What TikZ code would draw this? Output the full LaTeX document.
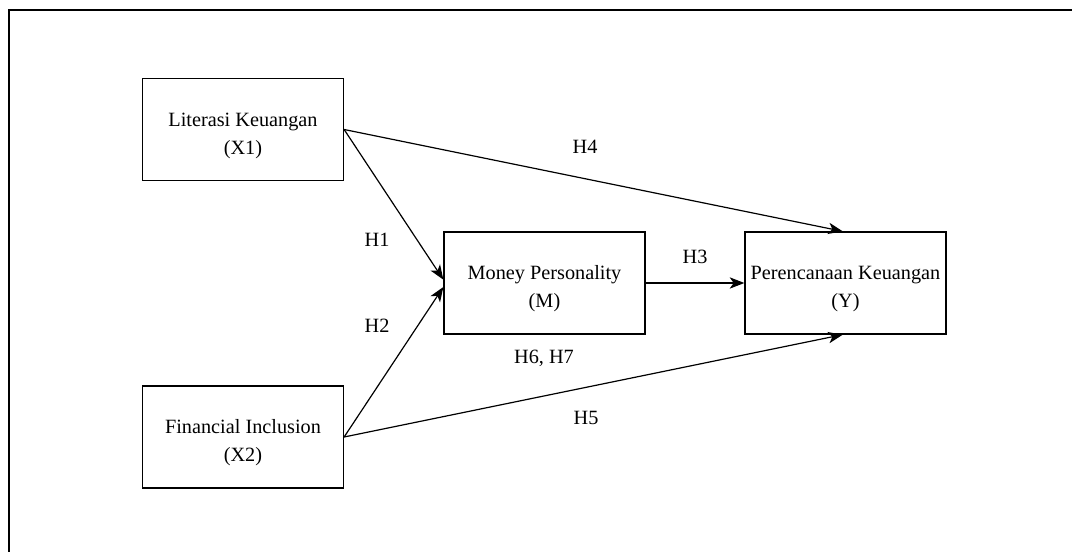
\documentclass[tikz,border=0pt]{standalone}
\usepackage{fontspec}
\setmainfont{Liberation Serif}
\usetikzlibrary{arrows.meta}
\newcommand{\lowstrut}{\rule{0pt}{19pt}}
\begin{document}
\begin{tikzpicture}[x=0.75pt,y=-0.75pt,
  varbox/.style={draw, line width=0.95pt, rectangle, minimum width=150.75pt, minimum height=76.5pt,
                 align=center, inner sep=0pt, font=\fontsize{15.2}{21}\selectfont},
  hyp/.style={inner sep=0pt, font=\fontsize{15.2}{17}\selectfont},
  link/.style={line width=0.9pt, -{Stealth[length=11pt,width=8.5pt,inset=3pt]}}]
  \useasboundingbox (0,0) rectangle (1072,552);
  % outer frame (open to the right and below)
  \draw[line width=1.4pt] (1072,10) -- (9,10) -- (9,552);

  % variables
  \node[varbox] (x1) at (243,129.5) {\lowstrut Literasi Keuangan\\(X1)};
  \node[varbox] (x2) at (243,437) {\lowstrut Financial Inclusion\\(X2)};
  \node[varbox] (m)  at (544.5,283) {\lowstrut Money Personality\\(M)};
  \node[varbox] (y)  at (845.5,283) {\lowstrut Perencanaan Keuangan\\(Y)};

  % paths
  \draw[link] (x1.east) -- ([yshift=2.5pt]m.west);
  \draw[link] (x2.east) -- ([yshift=-3pt]m.west);
  \draw[link] (x1.east) -- ([xshift=-2pt]y.north);
  \draw[link] (x2.east) -- ([xshift=-2pt]y.south);
  \draw[link] (m.east) -- (y.west);

  % hypothesis labels
  \node[hyp] (h1) at (377,240) {H1};
  \node[hyp] (h2) at (377,326) {H2};
  \node[hyp] (h3) at (695,257) {H3};
  \node[hyp] (h4) at (585,147) {H4};
  \node[hyp] (h5) at (586,418) {H5};
  \node[hyp] (h67) at (544,358) {H6, H7};
\end{tikzpicture}
\end{document}
